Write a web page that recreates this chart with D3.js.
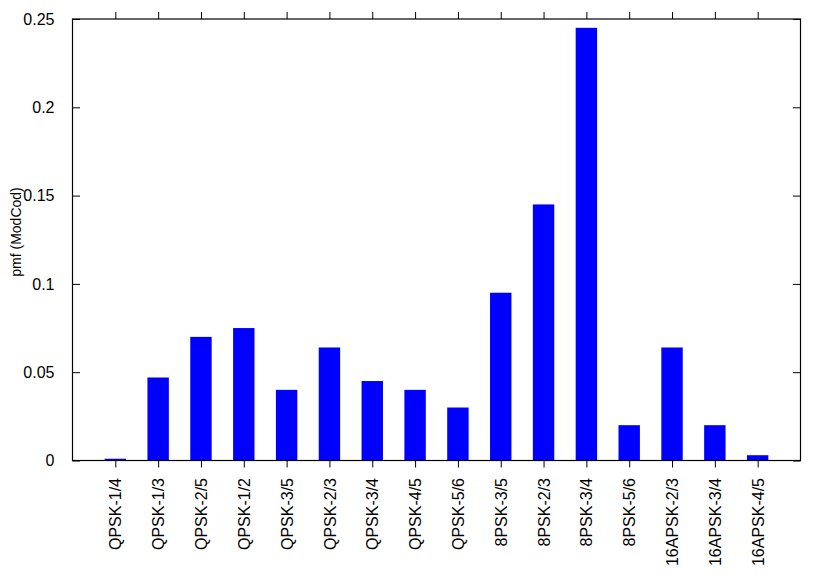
<!DOCTYPE html>
<html><head><meta charset="utf-8">
<script src="https://cdn.jsdelivr.net/npm/d3@7"></script>
<style>body{margin:0;background:#fff}svg{display:block}text{font-family:"Liberation Sans",Arial,sans-serif;fill:#000}</style>
</head><body>
<svg id="c" width="830" height="581"></svg>
<script>
const categories = ["QPSK-1/4","QPSK-1/3","QPSK-2/5","QPSK-1/2","QPSK-3/5","QPSK-2/3","QPSK-3/4","QPSK-4/5","QPSK-5/6","8PSK-3/5","8PSK-2/3","8PSK-3/4","8PSK-5/6","16APSK-2/3","16APSK-3/4","16APSK-4/5"];
const pmf = [0.001,0.047,0.070,0.075,0.040,0.064,0.045,0.040,0.030,0.095,0.145,0.245,0.020,0.064,0.020,0.003];
const yTicks = [0,0.05,0.1,0.15,0.2,0.25];
const yTickLabels = ["0","0.05","0.1","0.15","0.2","0.25"];
const yLabel = "pmf (ModCod)";

const svg = d3.select("#c");
const L = 72.5, R = 800.5, T = 19, B = 460.5;
const x = d3.scaleLinear().domain([-1, categories.length]).range([L, R]);
const y = d3.scaleLinear().domain([0, 0.25]).range([B, T]);
const bw = x(0.5) - x(0);

svg.append("g").selectAll("rect").data(pmf).join("rect")
  .attr("x", (d,i) => x(i) - bw/2)
  .attr("width", bw)
  .attr("y", d => y(d))
  .attr("height", d => y(0) - y(d))
  .attr("fill", "#0000ff");

const yl = svg.append("g").attr("transform", `translate(${L},0)`)
  .call(d3.axisLeft(y).tickValues(yTicks).tickSize(-7.5).tickPadding(18)
    .tickFormat((d,i) => yTickLabels[i]))
  .attr("font-size",16).attr("font-family",null);
yl.select(".domain").remove();
yl.selectAll("line").attr("stroke","#000");

const yr = svg.append("g").attr("transform", `translate(${R},0)`)
  .call(d3.axisRight(y).tickValues(yTicks).tickSize(-7.5).tickFormat(""));
yr.select(".domain").remove();

const idx = d3.range(categories.length);
const xb = svg.append("g").attr("transform", `translate(0,${B})`)
  .call(d3.axisBottom(x).tickValues(idx).tickSize(7).tickFormat(i => categories[i]))
  .attr("font-size",16).attr("font-family",null);
xb.select(".domain").remove();
xb.selectAll("text")
  .attr("text-anchor","end")
  .attr("transform","translate(0,17.5) rotate(-90)")
  .attr("x",0).attr("y",0).attr("dy","0.35em");

const xt = svg.append("g").attr("transform", `translate(0,${T})`)
  .call(d3.axisTop(x).tickValues(idx).tickSize(7).tickFormat(""));
xt.select(".domain").remove();

svg.append("rect").attr("x",L).attr("y",T).attr("width",R-L).attr("height",B-T)
  .attr("fill","none").attr("stroke","#000").attr("stroke-width",1.2);

svg.append("text").attr("transform",`translate(20.5,232) rotate(-90)`)
  .attr("text-anchor","middle").attr("font-size",14).text(yLabel);
</script>
</body></html>
